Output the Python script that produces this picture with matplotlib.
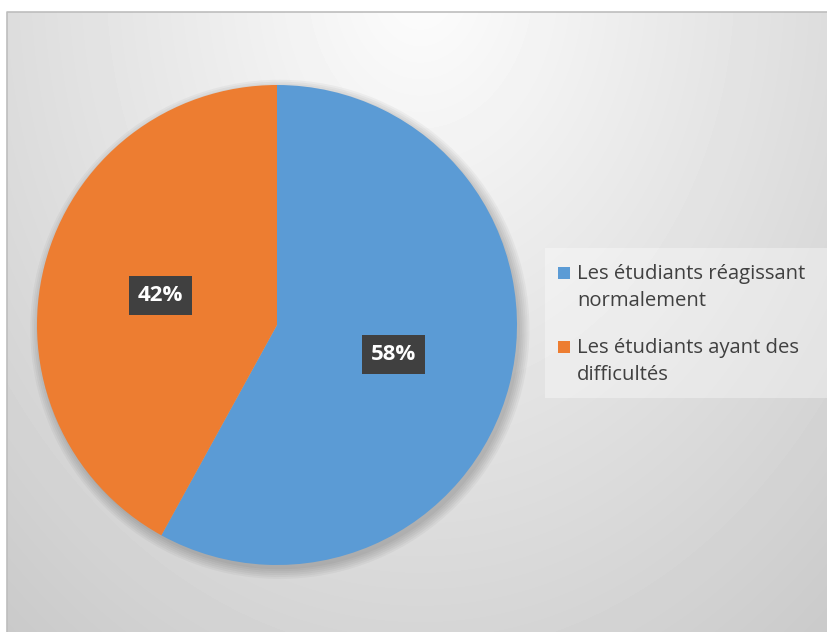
import numpy as np
import matplotlib
matplotlib.use("Agg")
import matplotlib.pyplot as plt
from matplotlib.patches import Rectangle, Circle

# Répartition des étudiants
labels = ["Les étudiants réagissant\nnormalement", "Les étudiants ayant des\ndifficultés"]
values = [58, 42]
colors = ["#5B9BD5", "#ED7D31"]

W, H = 828, 632
fig = plt.figure(figsize=(W / 100, H / 100), dpi=100)
fig.patch.set_facecolor("white")

# background axes in pixel coordinates
bg = fig.add_axes([0, 0, 1, 1])
bg.set_xlim(0, W)
bg.set_ylim(H, 0)
bg.axis("off")

# soft radial gradient behind the chart
x0, y0 = 7, 12
xx, yy = np.meshgrid(np.arange(x0, W), np.arange(y0, H))
d = np.sqrt(((xx - 420) / 580.0) ** 2 + ((yy + 20) / 760.0) ** 2)
g = np.clip(253 - 46 * d, 180, 253) / 255.0
bg.imshow(g, cmap="gray", vmin=0, vmax=1, extent=(x0, W, H, y0),
          interpolation="bilinear", zorder=0)
bg.plot([x0, x0, W], [H, y0, y0], color="#bdbdbd", lw=1.2, zorder=1)

# legend panel
bg.add_patch(Rectangle((545, 248), W - 545, 150, facecolor="white",
                       alpha=0.35, edgecolor="none", zorder=2))
leg_y = [273, 347]
for lab, col, y in zip(labels, colors, leg_y):
    bg.add_patch(Rectangle((558, y - 6), 12, 12, facecolor=col,
                           edgecolor="none", zorder=3))
    bg.text(577, y - 9, lab, fontsize=14.6, color="#404040", va="top",
            ha="left", family="Open Sans", linespacing=1.45, zorder=3)

# pie, with some room around it for the shadow
cx, cy, r = 277, 325, 240
m = 1.06
ax = fig.add_axes([(cx - r * m) / W, (H - cy - r * m) / H,
                   2 * r * m / W, 2 * r * m / H])

# faint drop shadow
for k in range(6):
    ax.add_patch(Circle((0.012, -0.018), 1.0 + 0.008 * k, color="black",
                        alpha=0.035, lw=0, zorder=0))

wedges, texts, autotexts = ax.pie(
    values, colors=colors, startangle=90, counterclock=False,
    autopct="%d%%", pctdistance=0.5, radius=1.0,
    wedgeprops=dict(linewidth=0),
    textprops=dict(color="white", fontsize=16, fontweight="bold",
                   family="Open Sans"))
for t in autotexts:
    t.set_bbox(dict(boxstyle="square,pad=0.4", facecolor="#404040",
                    edgecolor="none"))
ax.set_xlim(-m, m)
ax.set_ylim(-m, m)
ax.set_aspect("equal")
ax.axis("off")

fig.savefig("out.png", dpi=100)
